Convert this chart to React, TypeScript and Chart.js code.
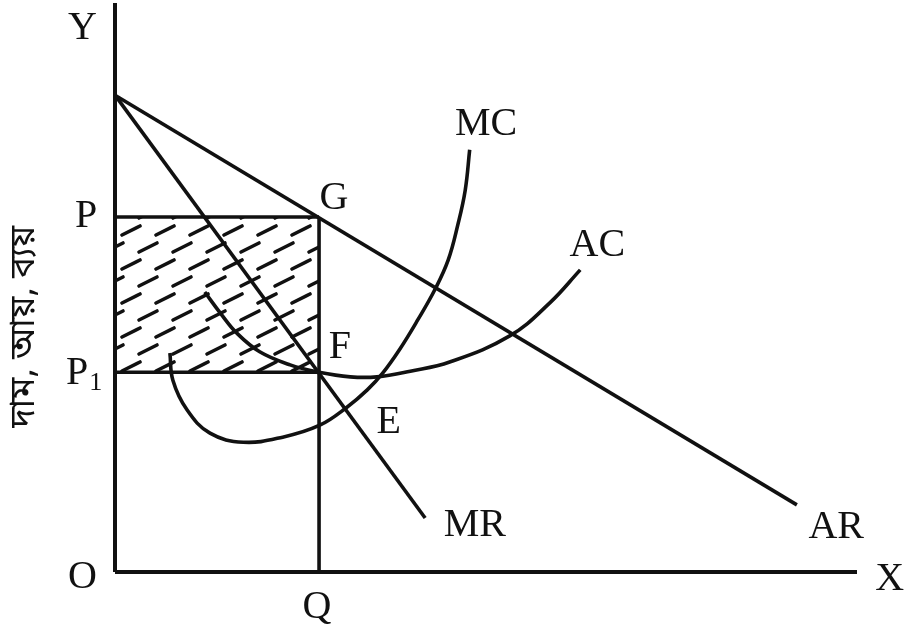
import React, { useEffect, useRef } from "react";
import { Chart, registerables } from "chart.js";

Chart.register(...registerables);

// ---- data (arbitrary diagram units, 0..100 on both axes) ----
const X_RANGE = [0, 100];
const Y_RANGE = [0, 100];
const Q_VALUE = 27.5;
const P_VALUE = 62.4;
const P1_VALUE = 35.1;

const AR_X = [0, 91.9];
const AR_Y = [83.8, 11.8];
const MR_X = [0, 41.8];
const MR_Y = [83.8, 9.5];

const MC_X = [7.4, 7.8, 9.7, 12.8, 17.3, 22.6, 27.6, 31.3, 34.0, 36.1, 38.4, 40.8, 43.1, 44.9, 46.2, 47.2, 47.8];
const MC_Y = [38.5, 33.7, 28.5, 24.4, 22.8, 23.7, 25.8, 29.0, 32.0, 35.0, 39.2, 44.3, 49.6, 54.8, 61.0, 67.1, 74.2];

const AC_X = [12.1, 14.2, 16.4, 19.5, 23.6, 27.5, 31.7, 35.3, 39.8, 45.1, 53.2, 58.6, 62.7];
const AC_Y = [49.2, 45.5, 42.0, 38.7, 36.4, 35.1, 34.3, 34.3, 35.3, 36.9, 41.5, 47.3, 53.1];

const LABEL_TEXT = ["Y", "O", "X", "Q", "P", "G", "F", "E", "MC", "AC", "MR", "AR"];
const LABEL_X = [-4.4, -4.4, 104.4, 27.2, -3.9, 29.5, 30.3, 36.9, 50.0, 65.0, 48.5, 97.2];
const LABEL_Y = [95.6, -0.9, -1.4, -6.2, 62.4, 65.6, 39.5, 26.2, 78.6, 57.3, 8.1, 7.9];

const P1_MAIN = "P";
const P1_SUB = "1";
const P1_ANCHOR = [-3.6, 34.8];

const Y_TITLE = "দাম, আয়, ব্যয়";
const Y_TITLE_ANCHOR = [-11.8, 43.1];

const pts = (xs: number[], ys: number[]) => xs.map((x, i) => ({ x, y: ys[i] }));

const SERIF = '"Liberation Serif", "DejaVu Serif", "Times New Roman", serif';
const BENGALI = '"Noto Sans Bengali", "Noto Serif Bengali", "Lohit Bengali", "FreeSerif", "Noto Sans", sans-serif';

function makeHatch(): CanvasPattern | string {
  const c = document.createElement("canvas");
  c.width = 34;
  c.height = 34;
  const g = c.getContext("2d");
  if (!g) return "rgba(0,0,0,0)";
  g.strokeStyle = "#111";
  g.lineWidth = 3.6;
  g.lineCap = "round";
  const dash = (x1: number, y1: number, x2: number, y2: number) => {
    g.beginPath();
    g.moveTo(x1, y1);
    g.lineTo(x2, y2);
    g.stroke();
  };
  dash(3, 14, 21, 5);
  dash(20, 31, 38, 22);
  dash(-14, 31, 4, 22);
  const p = g.createPattern(c, "repeat");
  return p || "rgba(0,0,0,0)";
}

const labelsPlugin = {
  id: "diagramLabels",
  afterDraw(chart: any) {
    const ctx: CanvasRenderingContext2D = chart.ctx;
    const xs = chart.scales.x;
    const ys = chart.scales.y;
    ctx.save();
    ctx.fillStyle = "#111";
    ctx.textAlign = "center";
    ctx.textBaseline = "middle";
    ctx.font = `40px ${SERIF}`;
    LABEL_TEXT.forEach((t, i) => {
      ctx.fillText(t, xs.getPixelForValue(LABEL_X[i]), ys.getPixelForValue(LABEL_Y[i]));
    });
    // P1 with subscript
    const px = xs.getPixelForValue(P1_ANCHOR[0]);
    const py = ys.getPixelForValue(P1_ANCHOR[1]);
    ctx.textAlign = "right";
    ctx.fillText(P1_MAIN, px, py);
    ctx.textAlign = "left";
    ctx.font = `26px ${SERIF}`;
    ctx.fillText(P1_SUB, px + 1, py + 9);
    // rotated Bengali axis title
    ctx.translate(xs.getPixelForValue(Y_TITLE_ANCHOR[0]), ys.getPixelForValue(Y_TITLE_ANCHOR[1]));
    ctx.rotate(-Math.PI / 2);
    ctx.textAlign = "center";
    ctx.font = `35px ${BENGALI}`;
    ctx.fillText(Y_TITLE, 0, 0);
    ctx.restore();
  },
};

export default function App() {
  const ref = useRef<HTMLCanvasElement | null>(null);

  useEffect(() => {
    if (!ref.current) return;
    const hatch = makeHatch();
    const line = (data: any[], extra: any = {}) => ({
      data,
      showLine: true,
      borderColor: "#111",
      borderWidth: 3.6,
      pointRadius: 0,
      fill: false,
      clip: false,
      tension: 0,
      borderCapStyle: "butt",
      ...extra,
    });
    const chart = new Chart(ref.current, {
      type: "scatter",
      data: {
        datasets: [
          line(pts([X_RANGE[0], X_RANGE[0]], [Y_RANGE[0], Y_RANGE[1]]), { borderWidth: 4 }),
          line(pts([X_RANGE[0], X_RANGE[1]], [Y_RANGE[0], Y_RANGE[0]]), { borderWidth: 4 }),
          line(pts(AR_X, AR_Y)),
          line(pts(MR_X, MR_Y)),
          line(pts(MC_X, MC_Y), { tension: 0.4 }),
          line(pts(AC_X, AC_Y), { tension: 0.4 }),
          line(pts([Q_VALUE, Q_VALUE], [0, P_VALUE])),
          line(pts([0, Q_VALUE], [P1_VALUE, P1_VALUE])),
          line(pts([0, Q_VALUE], [P_VALUE, P_VALUE]), {
            fill: { value: P1_VALUE },
            backgroundColor: hatch,
          }),
        ],
      },
      options: {
        responsive: false,
        animation: false,
        events: [],
        layout: { padding: { left: 115, right: 49, top: 3, bottom: 56 } },
        plugins: {
          legend: { display: false },
          tooltip: { enabled: false },
          title: { display: false },
        },
        scales: {
          x: { type: "linear", min: X_RANGE[0], max: X_RANGE[1], display: false },
          y: { type: "linear", min: Y_RANGE[0], max: Y_RANGE[1], display: false },
        },
      },
      plugins: [labelsPlugin],
    } as any);
    return () => chart.destroy();
  }, []);

  return (
    <div style={{ position: "fixed", left: 0, top: 0, width: 906, height: 628, background: "#fff" }}>
      <canvas ref={ref} width={906} height={628} style={{ display: "block" }} />
    </div>
  );
}
